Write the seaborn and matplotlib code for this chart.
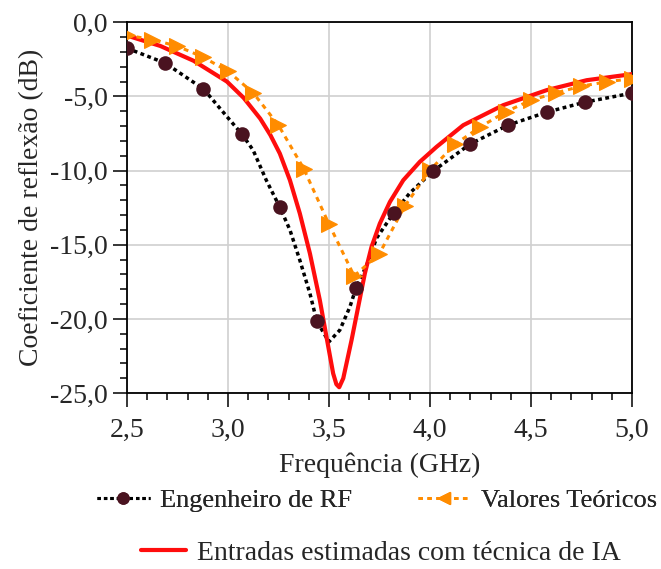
import matplotlib
matplotlib.use("Agg")
import matplotlib.pyplot as plt
import seaborn as sns
import pandas as pd
from matplotlib.lines import Line2D
from matplotlib.ticker import MultipleLocator, FuncFormatter

# Engenheiro de RF: dotted curve + circle markers
eng_line_x = [2.50, 2.69, 2.88, 3.01, 3.07, 3.125, 3.19, 3.257, 3.307, 3.356, 3.406, 3.44,
              3.50, 3.554, 3.604, 3.634, 3.687, 3.736, 3.82, 3.90, 4.015, 4.198, 4.386,
              4.579, 4.767, 5.0]
eng_line_y = [-1.75, -2.76, -4.51, -6.6, -7.55, -8.63, -10.65, -12.47, -14.0, -16.04, -18.28,
              -20.15, -21.54, -20.75, -19.18, -17.92, -16.37, -14.55, -12.87, -11.52, -10.04,
              -8.22, -6.94, -6.06, -5.39, -4.78]
eng_mk_x = [2.5, 2.688, 2.876, 3.069, 3.257, 3.44, 3.634, 3.82, 4.015, 4.198, 4.386, 4.579, 4.767, 5.0]
eng_mk_y = [-1.75, -2.76, -4.51, -7.55, -12.47, -20.15, -17.92, -12.87, -10.04, -8.22, -6.94,
            -6.06, -5.39, -4.78]

# Entradas estimadas com tecnica de IA (solid red)
ia_x = [2.5, 2.665, 2.83, 2.995, 3.078, 3.16, 3.21, 3.257, 3.307, 3.356, 3.406, 3.455, 3.497,
        3.521, 3.537, 3.551, 3.571, 3.595, 3.612, 3.645, 3.678, 3.711, 3.752, 3.802, 3.868,
        3.95, 4.033, 4.165, 4.363, 4.578, 4.776, 5.0]
ia_y = [-0.9, -1.6, -2.6, -4.0, -5.1, -6.5, -7.6, -8.85, -10.65, -12.89, -15.59, -18.73,
        -21.88, -23.67, -24.4, -24.6, -24.0, -22.5, -21.43, -19.18, -16.93, -15.14, -13.57,
        -12.11, -10.65, -9.41, -8.4, -6.94, -5.59, -4.58, -3.91, -3.5]

# Valores Teoricos (orange, triangles)
teo_x = [2.5, 2.625, 2.75, 2.875, 3.0, 3.125, 3.25, 3.375, 3.5, 3.625, 3.75, 3.875, 4.0,
         4.125, 4.25, 4.375, 4.5, 4.625, 4.75, 4.875, 5.0]
teo_y = [-0.88, -1.17, -1.62, -2.34, -3.3, -4.76, -6.94, -9.86, -13.6, -17.1, -15.6, -12.4,
         -9.97, -8.22, -7.05, -6.04, -5.26, -4.76, -4.31, -4.02, -3.8]

x_ticks = [2.5, 3.0, 3.5, 4.0, 4.5, 5.0]
y_ticks = [0, -5, -10, -15, -20, -25]

eng_color = "black"
eng_mk_color = "#4a1320"
ia_color = "#ff0d0d"
teo_color = "#ff8c00"

sns.set_style("white")
plt.rcParams["font.family"] = ["Liberation Serif", "DejaVu Serif"]
plt.rcParams["font.size"] = 20

fig = plt.figure(figsize=(6.61, 5.69), dpi=100)
ax = fig.add_axes([0.192, 0.309, 0.764, 0.652])

eng_df = pd.DataFrame({"f": eng_line_x, "s11": eng_line_y})
sns.lineplot(data=eng_df, x="f", y="s11", ax=ax, color=eng_color, linestyle=(0, (1.1, 1.0)),
             linewidth=2.5, sort=False, estimator=None, zorder=3)
sns.lineplot(x=ia_x, y=ia_y, ax=ax, color=ia_color, linewidth=3.0, sort=False,
             estimator=None, zorder=4)
sns.lineplot(x=teo_x, y=teo_y, ax=ax, color=teo_color, linestyle=(0, (1.6, 1.6)),
             linewidth=2.2, marker=">", markersize=11, markeredgecolor=teo_color,
             sort=False, estimator=None, zorder=5)
sns.scatterplot(x=eng_mk_x, y=eng_mk_y, ax=ax, color=eng_mk_color, marker="o", s=110,
                edgecolor=eng_mk_color, linewidth=0, zorder=6)

ax.set_xlim(2.5, 5.0)
ax.set_ylim(-25, 0)
ax.set_xticks(x_ticks)
ax.set_yticks(y_ticks)
ax.xaxis.set_minor_locator(MultipleLocator(0.1))
ax.yaxis.set_minor_locator(MultipleLocator(1))
fmt = FuncFormatter(lambda v, p: f"{v:.1f}".replace(".", ","))
ax.xaxis.set_major_formatter(fmt)
ax.yaxis.set_major_formatter(fmt)
ax.tick_params(which="major", direction="out", length=10, width=1.1, labelsize=20,
               bottom=True, left=True, top=False, right=False, color="black")
ax.tick_params(axis="x", which="major", pad=8)
ax.tick_params(axis="y", which="major", pad=4)
ax.tick_params(which="minor", direction="out", length=5, width=1.1,
               bottom=True, left=True, top=False, right=False, color="black")
ax.grid(True, which="major", color="#d0d0d0", linewidth=1.2)
for sp in ax.spines.values():
    sp.set_color("black")
    sp.set_linewidth(1.3)

ax.set_xlabel("Frequência (GHz)", fontsize=20, labelpad=7)
ax.set_ylabel("Coeficiente de reflexão (dB)", fontsize=20, labelpad=4)

h_eng = Line2D([], [], color=eng_color, linestyle=(0, (1.1, 1.0)), linewidth=2.2,
               marker="o", markersize=8, markerfacecolor=eng_mk_color, markeredgecolor=eng_mk_color)
h_teo = Line2D([], [], color=teo_color, linestyle=(0, (1.6, 1.6)), linewidth=2.0,
               marker="<", markersize=8, markerfacecolor=teo_color, markeredgecolor=teo_color)
h_ia = Line2D([], [], color=ia_color, linewidth=3.0)

leg1 = fig.legend([h_eng, h_teo], ["Engenheiro de RF", "Valores Teóricos"], ncol=2,
                  loc="center", bbox_to_anchor=(377 / 661, 1 - 500 / 569), frameon=False,
                  fontsize=19, handlelength=2.0, handletextpad=0.38, columnspacing=2.5,
                  borderpad=0, borderaxespad=0)
leg2 = fig.legend([h_ia], ["Entradas estimadas com técnica de IA"], loc="center",
                  bbox_to_anchor=(381 / 661, 1 - 553 / 569), frameon=False, fontsize=20,
                  handlelength=1.6, handletextpad=0.4, borderpad=0, borderaxespad=0)
fig.add_artist(leg1)

fig.savefig("out.png", dpi=100)
